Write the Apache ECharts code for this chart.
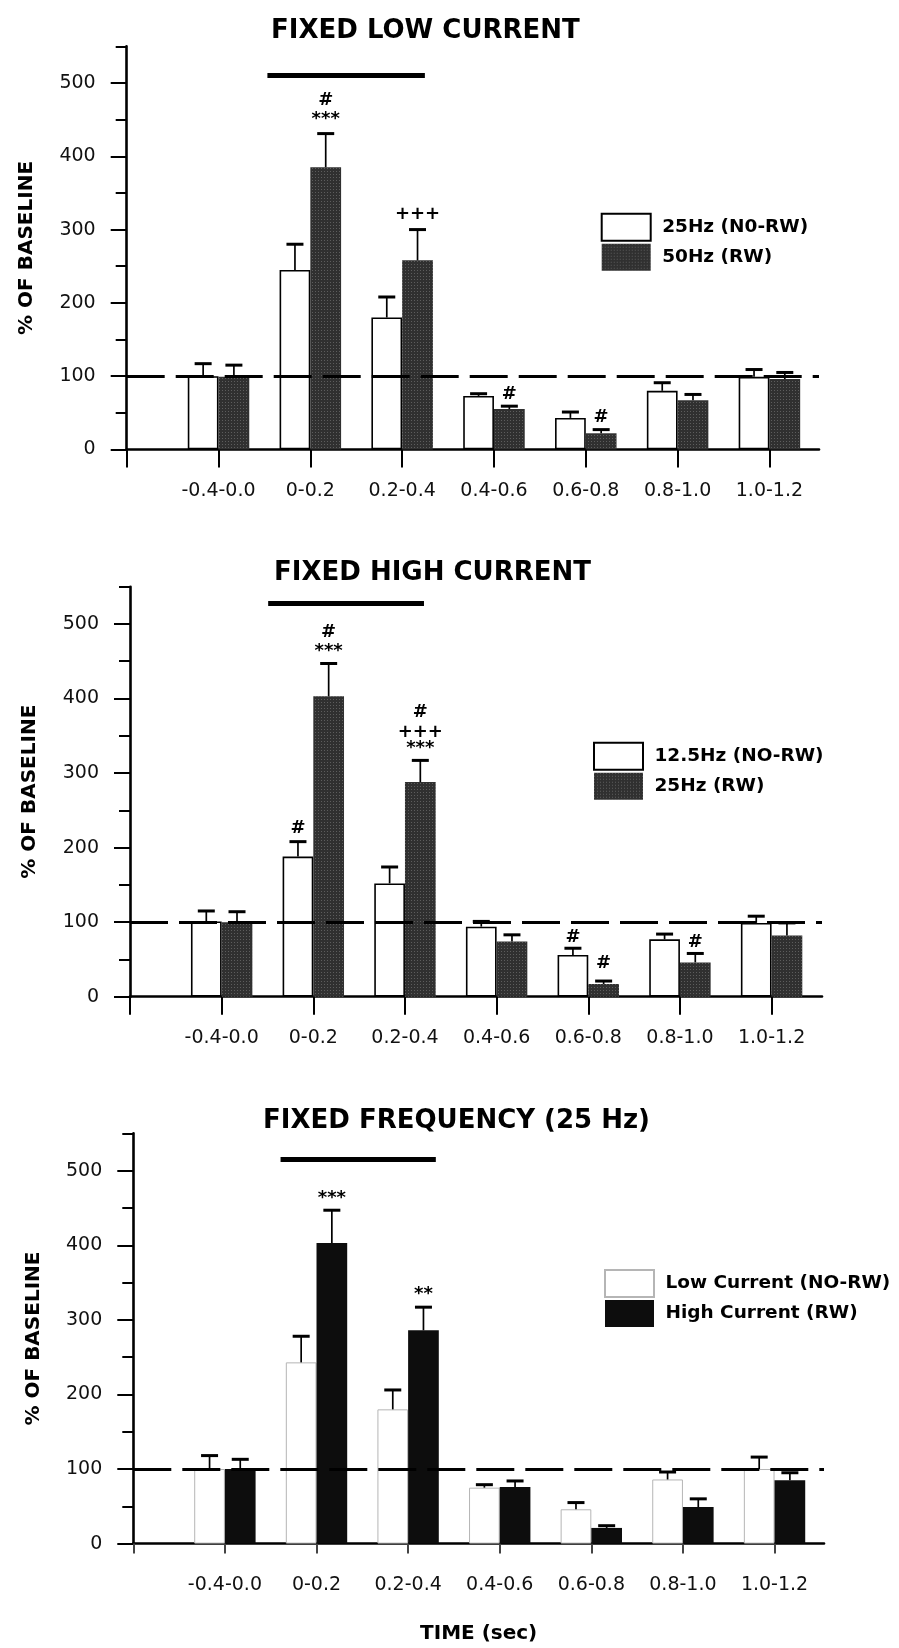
<!DOCTYPE html>
<html><head><meta charset="utf-8">
<script src="https://cdn.jsdelivr.net/npm/echarts@6/dist/echarts.min.js"></script>
<style>html,body{margin:0;padding:0;background:#fff}#c{width:899px;height:1648px}</style>
</head><body><div id="c"></div>
<script>
// ---------- DATA ----------
const categories = ['-0.4-0.0','0-0.2','0.2-0.4','0.4-0.6','0.6-0.8','0.8-1.0','1.0-1.2'];
const yTickLabels = [0,100,200,300,400,500];
const yMinorTicks = [50,150,250,350,450,550];
const baseline = 100;
const titles = ['FIXED LOW CURRENT','FIXED HIGH CURRENT','FIXED FREQUENCY (25 Hz)'];
const xAxisName = 'TIME (sec)';
const yAxisName = '% OF BASELINE';

// Panel 1 : fixed low current
const p1Names = ['25Hz (N0-RW)','50Hz (RW)'];
const p1White = [100, 245, 180, 73, 43, 80, 99];
const p1WhiteErr = [117, 280, 208, 76, 51, 91, 109];
const p1Dark = [99, 385, 258, 55, 22, 67, 96];
const p1DarkErr = [115, 431, 300, 59, 27, 75, 105];
const p1Stim = [0.70, 2.415, 511];
const p1Marks = [[1,476,'#',1],[1,451,'***',1],[2,321,'+++',1],[3,75,'#',1],[4,44,'#',1]];

// Panel 2 : fixed high current
const p2Names = ['12.5Hz (NO-RW)','25Hz (RW)'];
const p2White = [101, 188, 152, 94, 56, 77, 99];
const p2WhiteErr = [115, 208, 174, 101, 65, 84, 108];
const p2Dark = [100, 403, 288, 74, 17, 46, 82];
const p2DarkErr = [114, 447, 317, 83, 21, 58, 99];
const p2Stim = [0.675, 2.375, 528];
const p2Marks = [[1,226,'#',-1],[1,463,'***',1],[1,489,'#',1],[2,333,'***',1],[2,355,'+++',1],[2,381,'#',1],[4,79,'#',-1],[4,45,'#',1],[5,73,'#',1]];

// Panel 3 : fixed frequency
const p3Names = ['Low Current (NO-RW)','High Current (RW)'];
const p3White = [100, 243, 180, 75, 46, 86, 100];
const p3WhiteErr = [118, 278, 206, 79, 55, 96, 116];
const p3Dark = [100, 403, 286, 76, 21, 49, 85];
const p3DarkErr = [113, 447, 317, 84, 24, 60, 95];
const p3Stim = [0.775, 2.47, 516];
const p3Marks = [[1,463,'***',1],[2,334,'**',1]];

// ---------- LAYOUT / STYLE ----------
const FONT = 'DejaVu Sans';
const BAR_FRAC = 0.335;
const layout = [
  {left:126.7, top:46.4, width:692.3, height:403, xMax:6.54, titleLeft:271, titleTop:18, legendLeft:600.7, legendTop:212.7, tickLen:18, tickColor:'#000'},
  {left:130, top:586.7, width:692, height:410, xMax:6.55, titleLeft:274, titleTop:560, legendLeft:593, legendTop:741.7, tickLen:18, tickColor:'#000'},
  {left:133.3, top:1133.4, width:690.7, height:410.2, xMax:6.54, titleLeft:263, titleTop:1108, legendLeft:604, legendTop:1269, tickLen:10, tickColor:'#444'}
];
const stipple = {symbol:'rect', symbolSize:1, color:'rgba(255,255,255,0.22)', dashArrayX:[1,2], dashArrayY:[1,2], rotation:0};
const panels = [
  {names:p1Names, white:p1White, whiteErr:p1WhiteErr, dark:p1Dark, darkErr:p1DarkErr, stim:p1Stim, marks:p1Marks,
   whiteStyle:{color:'#fff', borderColor:'#000', borderWidth:1.6},
   darkStyle:{color:'#303030', decal:stipple}},
  {names:p2Names, white:p2White, whiteErr:p2WhiteErr, dark:p2Dark, darkErr:p2DarkErr, stim:p2Stim, marks:p2Marks,
   whiteStyle:{color:'#fff', borderColor:'#000', borderWidth:1.6},
   darkStyle:{color:'#303030', decal:stipple}},
  {names:p3Names, white:p3White, whiteErr:p3WhiteErr, dark:p3Dark, darkErr:p3DarkErr, stim:p3Stim, marks:p3Marks,
   whiteStyle:{color:'#fff', borderColor:'#b5b5b5', borderWidth:1},
   darkStyle:{color:'#0d0d0d'}}
];

const catIdx = categories.map((_, i) => i);
const tickIdx = [-1].concat(catIdx);

const grid = [], xAxis = [], yAxis = [], series = [], title = [], legend = [];

function errRender(side) {
  return function (params, api) {
    const x = api.value(0), v = api.value(1), e = api.value(2);
    const band = api.size([1, 0])[0];
    const off = side * BAR_FRAC / 2 * band;
    const top = api.coord([x, v]);
    const cap = api.coord([x, e]);
    const cx = top[0] + off;
    return {type:'group', children:[
      {type:'line', shape:{x1:cx, y1:top[1], x2:cx, y2:cap[1]}, style:{stroke:'#000', lineWidth:1.7}},
      {type:'line', shape:{x1:cx-8.5, y1:cap[1], x2:cx+8.5, y2:cap[1]}, style:{stroke:'#000', lineWidth:3}}
    ]};
  };
}

layout.forEach((L, i) => {
  const P = panels[i];
  grid.push({left:L.left, top:L.top, width:L.width, height:L.height, containLabel:false, outerBoundsMode:'none'});
  title.push({text:titles[i], left:L.titleLeft, top:L.titleTop, padding:0,
    textStyle:{fontFamily:FONT, fontWeight:'bold', fontSize:26, color:'#000'}});
  legend.push({data:P.names, left:L.legendLeft, top:L.legendTop, orient:'vertical', padding:0,
    itemWidth:49, itemHeight:27, itemGap:2, icon:'rect', selectedMode:false,
    formatter: n => ' ' + n,
    textStyle:{fontFamily:FONT, fontWeight:'bold', fontSize:18.5, color:'#000'}});
  xAxis.push({gridIndex:i, type:'value', min:-1, max:L.xMax,
    axisLine:{show:true, onZero:false, lineStyle:{color:'#000', width:2.6}},
    axisTick:{show:true, customValues:tickIdx, length:L.tickLen, lineStyle:{color:L.tickColor, width:2}},
    axisLabel:{customValues:catIdx, formatter: v => categories[v] || '', margin:32,
      fontFamily:FONT, fontSize:19, color:'#111'},
    splitLine:{show:false},
    name: i === 2 ? xAxisName : '', nameLocation:'middle', nameGap:80,
    nameTextStyle:{fontFamily:FONT, fontWeight:'bold', fontSize:20, color:'#000'}});
  yAxis.push({gridIndex:i, type:'value', min:0, max:550, interval:100, position:'left',
    axisLine:{show:true, onZero:false, lineStyle:{color:'#000', width:2.6}},
    axisTick:{show:true, customValues:yTickLabels, length:16, lineStyle:{color:'#000', width:2}},
    axisLabel:{customValues:yTickLabels, margin:31, fontFamily:FONT, fontSize:19, color:'#111'},
    splitLine:{show:false},
    name:yAxisName, nameLocation:'middle', nameRotate:90, nameGap:90,
    nameTextStyle:{fontFamily:FONT, fontWeight:'bold', fontSize:20, color:'#000'}});
  yAxis.push({gridIndex:i, type:'value', min:0, max:550, interval:50, position:'left',
    axisLine:{show:false, onZero:false},
    axisTick:{show:true, customValues:yMinorTicks, length:11, lineStyle:{color:'#000', width:2}},
    axisLabel:{show:false}, splitLine:{show:false}});

  const yi = 2 * i;
  series.push({type:'bar', name:P.names[0], xAxisIndex:i, yAxisIndex:yi,
    data:P.white.map((v, k) => [k, v]), barWidth:(BAR_FRAC*100)+'%', barGap:'0%',
    itemStyle:P.whiteStyle, z:2,
    markLine:{silent:true, symbol:'none', label:{show:false}, animation:false,
      data:[
        {yAxis:baseline, lineStyle:{type:[38,11], width:3, color:'#000'}},
        [{coord:[P.stim[0], P.stim[2]], lineStyle:{type:'solid', width:5, color:'#000'}}, {coord:[P.stim[1], P.stim[2]]}]
      ]}});
  series.push({type:'bar', name:P.names[1], xAxisIndex:i, yAxisIndex:yi,
    data:P.dark.map((v, k) => [k, v]), barWidth:(BAR_FRAC*100)+'%', barGap:'0%',
    itemStyle:P.darkStyle, z:2});
  series.push({type:'custom', xAxisIndex:i, yAxisIndex:yi, z:3, silent:true,
    data:P.white.map((v, k) => [k, v, P.whiteErr[k]]), encode:{x:0, y:[1,2]}, renderItem:errRender(-1)});
  series.push({type:'custom', xAxisIndex:i, yAxisIndex:yi, z:3, silent:true,
    data:P.dark.map((v, k) => [k, v, P.darkErr[k]]), encode:{x:0, y:[1,2]}, renderItem:errRender(1)});
  const marks = P.marks;
  series.push({type:'custom', xAxisIndex:i, yAxisIndex:yi, z:4, silent:true,
    data:marks.map(m => [m[0], m[1], m[3]]), encode:{x:0, y:1},
    renderItem:(params, api) => {
      const band = api.size([1, 0])[0];
      const p = api.coord([api.value(0), api.value(1)]);
      const txt = marks[params.dataIndex][2];
      return {type:'text', x:p[0] + api.value(2) * BAR_FRAC / 2 * band, y:p[1],
        style:{text:txt, fill:'#000', font:'bold 18px "DejaVu Sans"', align:'center', verticalAlign:'middle'}};
    }});
});

const chart = echarts.init(document.getElementById('c'), null, {renderer:'canvas'});
chart.setOption({animation:false, backgroundColor:'#fff', title, legend, grid, xAxis, yAxis, series});
</script>
</body></html>
